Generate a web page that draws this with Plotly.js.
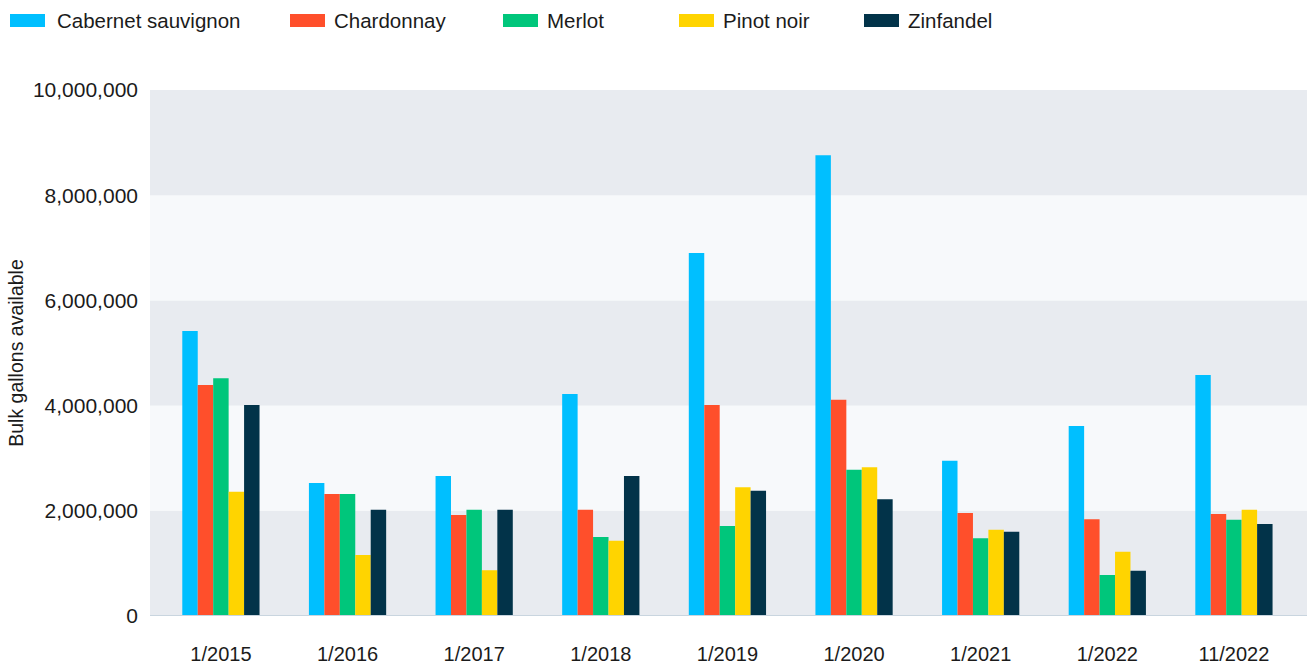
<!DOCTYPE html>
<html>
<head>
<meta charset="utf-8">
<script src="https://cdn.plot.ly/plotly-3.0.1.min.js"></script>
<style>
  html, body { margin: 0; padding: 0; background: #ffffff; }
  #chart { width: 1307px; height: 669px; }
</style>
</head>
<body>
<div id="chart"></div>
<script>
// Bulk wine inventory by varietal, per survey date (gallons)
const dates = ["1/2015", "1/2016", "1/2017", "1/2018", "1/2019", "1/2020", "1/2021", "1/2022", "11/2022"];
const varietals = ["Cabernet sauvignon", "Chardonnay", "Merlot", "Pinot noir", "Zinfandel"];
const cabernet   = [5420000, 2530000, 2660000, 4220000, 6900000, 8760000, 2950000, 3610000, 4580000];
const chardonnay = [4390000, 2320000, 1920000, 2020000, 4010000, 4110000, 1960000, 1840000, 1940000];
const merlot     = [4520000, 2320000, 2020000, 1500000, 1710000, 2780000, 1480000, 780000, 1830000];
const pinotNoir  = [2360000, 1160000, 870000, 1430000, 2450000, 2830000, 1640000, 1220000, 2020000];
const zinfandel  = [4010000, 2020000, 2020000, 2660000, 2380000, 2220000, 1600000, 860000, 1750000];
const yTicks = [0, 2000000, 4000000, 6000000, 8000000, 10000000];

const series = [cabernet, chardonnay, merlot, pinotNoir, zinfandel];
const colors = ["#00bfff", "#ff4f2b", "#00c67b", "#ffd400", "#023349"];

const FONT = "Liberation Sans, Arial, Helvetica, sans-serif";
const TEXT = "#1b1b1b";

const traces = series.map((vals, i) => ({
  type: "bar",
  name: varietals[i],
  x: dates.map((d, k) => k),
  y: vals,
  marker: { color: colors[i], line: { width: 0 } },
  showlegend: false,
  hoverinfo: "x+y+name"
}));

// Figure and plot-area geometry (pixels)
const W = 1307, H = 669;
const M = { l: 150, r: 0, t: 90, b: 53 };
const plotW = W - M.l - M.r, plotH = H - M.t - M.b;
const px = x => (x - M.l) / plotW;          // figure pixel -> paper x
const py = y => (H - M.b - y) / plotH;      // figure pixel -> paper y

// Alternating horizontal bands behind the bars
const shapes = [];
for (let k = 0; k < yTicks.length - 1; k++) {
  shapes.push({
    type: "rect", xref: "paper", yref: "y", layer: "below",
    x0: 0, x1: 1, y0: yTicks[k], y1: yTicks[k + 1],
    fillcolor: k % 2 === 0 ? "#e8ebf0" : "#f7f9fb",
    line: { width: 0 }
  });
}
// Baseline
shapes.push({
  type: "line", xref: "paper", yref: "y", layer: "above",
  x0: 0, x1: 1, y0: 0, y1: 0,
  line: { color: "#c9d5df", width: 2 }
});

// Legend row along the top: wide swatches with labels
const legendX = [10, 290, 503, 679, 864];
const annotations = [];
varietals.forEach((name, i) => {
  shapes.push({
    type: "rect", xref: "paper", yref: "paper",
    x0: px(legendX[i]), x1: px(legendX[i] + 35),
    y0: py(27), y1: py(14),
    fillcolor: colors[i], line: { width: 0 }
  });
  annotations.push({
    xref: "paper", yref: "paper",
    x: px(legendX[i] + (i === 0 ? 45 : 42)), y: py(20.5),
    xanchor: "left", yanchor: "middle",
    text: name, showarrow: false,
    font: { family: FONT, size: 20.5, color: TEXT }
  });
});

const layout = {
  width: W, height: H,
  margin: { l: M.l, r: M.r, t: M.t, b: M.b, pad: 0 },
  paper_bgcolor: "#ffffff",
  plot_bgcolor: "#f7f9fb",
  barmode: "group",
  bargap: 0.39,
  bargroupgap: 0,
  showlegend: false,
  font: { family: FONT, size: 20, color: TEXT },
  xaxis: {
    type: "linear",
    range: [-0.56, 8.577],
    tickmode: "array",
    tickvals: dates.map((d, k) => k),
    ticktext: dates,
    showgrid: false, zeroline: false, showline: false,
    ticks: "", ticklabelstandoff: 24,
    tickfont: { family: FONT, size: 20, color: TEXT },
    fixedrange: true
  },
  yaxis: {
    range: [0, 10000000],
    tickmode: "array",
    tickvals: yTicks,
    ticktext: yTicks.map(v => v.toLocaleString("en-US")),
    showgrid: false, zeroline: false, showline: false,
    ticks: "", ticklabelstandoff: 11,
    tickfont: { family: FONT, size: 21, color: TEXT },
    title: {
      text: "Bulk gallons available",
      font: { family: FONT, size: 19.5, color: TEXT },
      standoff: 4
    },
    fixedrange: true
  },
  shapes: shapes,
  annotations: annotations
};

Plotly.newPlot("chart", traces, layout, { displayModeBar: false, responsive: false });
</script>
</body>
</html>
